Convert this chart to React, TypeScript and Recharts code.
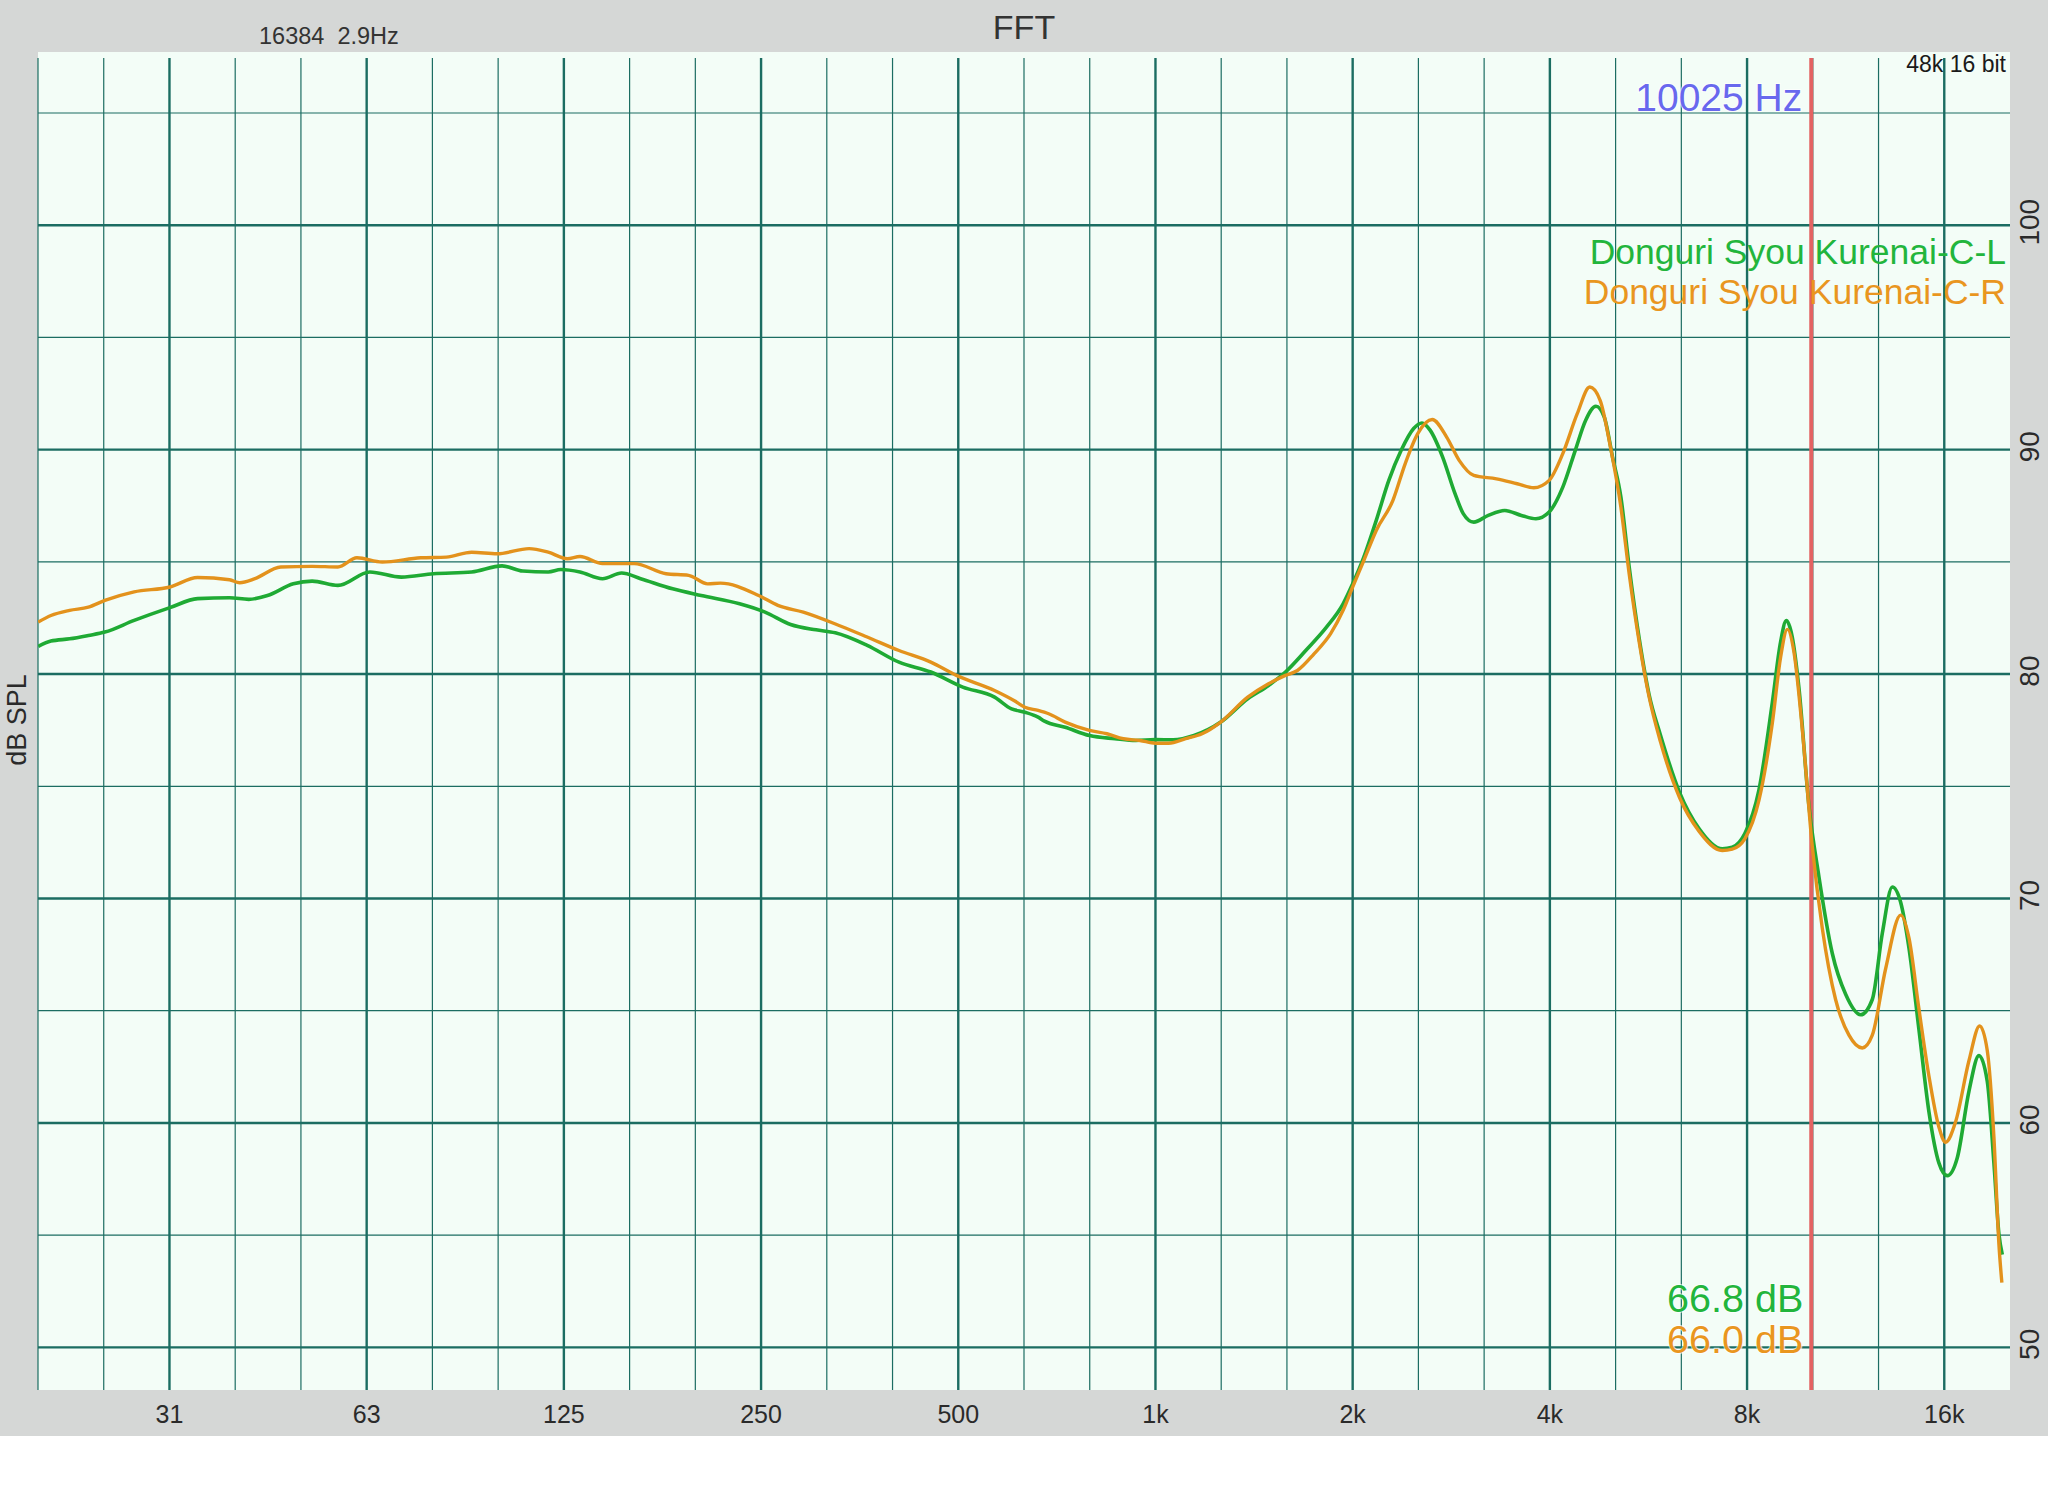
import React from 'react';
import { LineChart, Line, XAxis, YAxis, ReferenceLine } from 'recharts';

// ---- data ----
const freqL = [19.7, 20.6, 22.0, 23.5, 24.9, 27.6, 31.3, 34.5, 38.6, 41.3, 44.1, 48.3, 51.6, 56.5, 63.2, 70.6, 79.0, 90.4, 100.6, 108.2, 118.3, 123.7, 132.3, 143.2, 153.1, 163.7, 183.2, 202.6, 231.8, 253.5, 277.3, 303.3, 324.5, 363, 406, 454, 508, 568, 603, 632, 662, 677, 728, 793, 867, 933, 1000, 1064, 1145, 1258, 1383, 1488, 1579, 1696, 1824, 1934, 2000, 2080, 2173, 2271, 2372, 2478, 2551, 2627, 2744, 2866, 2950, 3061, 3221, 3413, 3619, 3808, 3990, 4186, 4374, 4535, 4704, 4843, 4986, 5134, 5286, 5481, 5668, 5898, 6312, 6756, 7332, 7594, 7941, 8340, 8740, 9000, 9183, 9377, 9600, 9942, 10300, 10795, 11313, 11926, 12424, 12871, 13330, 13726, 14135, 14640, 15160, 15700, 16170, 16750, 17450, 18075, 18610, 19050, 19390, 19620];
const dbL = [81.23, 81.47, 81.57, 81.72, 81.87, 82.39, 82.96, 83.36, 83.4, 83.33, 83.5, 84.02, 84.14, 83.95, 84.55, 84.32, 84.47, 84.55, 84.82, 84.59, 84.55, 84.66, 84.55, 84.25, 84.5, 84.25, 83.8, 83.5, 83.13, 82.76, 82.21, 81.97, 81.84, 81.28, 80.53, 80.09, 79.42, 78.97, 78.45, 78.3, 78.08, 77.9, 77.63, 77.26, 77.12, 77.04, 77.08, 77.07, 77.26, 77.86, 78.9, 79.49, 80.09, 81.05, 82.09, 83.13, 84.02, 85.21, 86.85, 88.63, 89.97, 90.94, 91.19, 90.86, 89.67, 88.04, 87.15, 86.77, 87.07, 87.29, 87.07, 86.92, 87.22, 88.33, 89.97, 91.3, 91.93, 91.45, 89.67, 87.89, 84.77, 81.5, 79.1, 77.3, 74.72, 73.12, 72.21, 72.28, 72.9, 74.83, 78.7, 81.43, 82.38, 81.65, 79.38, 74.15, 70.96, 67.55, 65.73, 64.82, 65.5, 68.46, 70.51, 69.83, 67.78, 64.14, 60.5, 58.22, 57.65, 58.45, 61.41, 63.0, 61.86, 58.22, 55.04, 54.13];

const freqR = [19.7, 20.6, 22.0, 23.5, 24.9, 27.6, 31.3, 34.5, 38.6, 40.0, 42.2, 46.2, 51.6, 56.5, 60.4, 66.0, 75.6, 82.7, 90.4, 98.9, 110.6, 118.3, 126.5, 132.3, 143.2, 160, 179, 193.8, 207.2, 216.7, 247.9, 265.2, 290, 331.8, 363, 406, 454, 496.7, 568, 610, 632, 662, 687, 728, 793, 843, 893, 947, 1000, 1048, 1112, 1178, 1258, 1383, 1488, 1579, 1647, 1746, 1851, 1934, 2000, 2080, 2173, 2304, 2406, 2514, 2645, 2783, 2908, 3061, 3316, 3566, 3780, 3990, 4186, 4404, 4603, 4773, 4949, 5134, 5286, 5481, 5668, 5898, 6312, 6756, 7332, 7594, 7941, 8340, 8740, 9000, 9217, 9434, 9712, 10060, 10420, 10920, 11446, 11994, 12424, 13020, 13726, 14135, 14640, 15160, 15700, 16070, 16650, 17450, 18120, 18610, 19050, 19390, 19590];
const dbR = [82.32, 82.61, 82.84, 82.98, 83.28, 83.66, 83.88, 84.3, 84.2, 84.07, 84.25, 84.77, 84.8, 84.77, 85.18, 84.99, 85.18, 85.21, 85.43, 85.36, 85.59, 85.43, 85.14, 85.24, 84.92, 84.92, 84.47, 84.4, 84.02, 84.05, 83.5, 83.06, 82.76, 82.12, 81.65, 81.05, 80.53, 79.94, 79.27, 78.8, 78.52, 78.38, 78.23, 77.86, 77.49, 77.34, 77.12, 77.04, 76.92, 76.92, 77.12, 77.34, 77.86, 78.97, 79.57, 79.94, 80.16, 80.9, 81.8, 82.84, 83.88, 85.06, 86.4, 87.74, 89.38, 90.71, 91.34, 90.56, 89.52, 88.85, 88.7, 88.48, 88.3, 88.63, 89.82, 91.6, 92.79, 92.2, 90.12, 87.44, 84.47, 81.35, 79.0, 77.0, 74.49, 73.0, 72.14, 72.2, 72.67, 74.37, 77.78, 80.74, 81.99, 80.97, 77.56, 72.33, 68.69, 65.5, 63.91, 63.34, 63.91, 66.87, 69.26, 68.23, 65.06, 62.09, 59.82, 59.14, 60.05, 62.77, 64.32, 63.23, 59.37, 54.58, 52.88];

const xTickFreqs = [31.25, 62.5, 125, 250, 500, 1000, 2000, 4000, 8000, 16000];
const xTickLabels = ['31', '63', '125', '250', '500', '1k', '2k', '4k', '8k', '16k'];
const yTicks = [50, 60, 70, 80, 90, 100];
const yMinorGrid = [55, 65, 75, 85, 95, 105];

const seriesNames = ['Donguri Syou Kurenai-C-L', 'Donguri Syou Kurenai-C-R'];
const cursorFreq = 10025;
const cursorFreqLabel = '10025 Hz';
const cursorReadouts = ['66.8 dB', '66.0 dB'];
const titleText = 'FFT';
const fftInfo = '16384  2.9Hz';
const formatInfo = '48k 16 bit';
const yAxisTitle = 'dB SPL';

// ---- derived ----
const F_MIN = 31.25 / Math.pow(2, 2 / 3);
const F_MAX = 16000 * Math.pow(2, 1 / 3);
const thirdOctaves = Array.from({ length: 30 }, (_, k) => ({ f: F_MIN * Math.pow(2, k / 3), major: k % 3 === 2 }));
const dataL = freqL.map((f, i) => ({ f, db: dbL[i] }));
const dataR = freqR.map((f, i) => ({ f, db: dbR[i] }));

const GREEN = '#1faa34';
const ORANGE = '#e3921c';
const GREEN_TXT = '#22b53c';
const ORANGE_TXT = '#e9961f';
const GRID = '#1b6d62';
const FONT = '"Liberation Sans", Arial, Helvetica, sans-serif';
const TXT = '#2a2a2a';

const XTick = (props: any) => {
  const { x, y, payload } = props;
  const idx = xTickFreqs.findIndex((v) => Math.abs(v - payload.value) < 1e-6 * v + 1e-9);
  return (
    <text x={x} y={y + 25} textAnchor="middle" fontSize={25} fontFamily={FONT} fill={TXT}>
      {idx >= 0 ? xTickLabels[idx] : ''}
    </text>
  );
};

const YTick = (props: any) => {
  const { x, y, payload } = props;
  const bx = x + 21;
  const by = y - 3;
  return (
    <text x={bx} y={by} transform={`rotate(-90, ${bx}, ${by})`} textAnchor="middle" fontSize={28} fontFamily={FONT} fill={TXT}>
      {payload.value}
    </text>
  );
};

const CursorLabel = (props: any) => {
  const vb = props.viewBox || {};
  const x = vb.x;
  const top = vb.y;
  const bottom = vb.y + vb.height;
  const halo = { paintOrder: 'stroke' as const, stroke: '#ffffff', strokeWidth: 2, strokeOpacity: 0.7 };
  return (
    <g>
      <text x={x - 9} y={top + 53} textAnchor="end" fontSize={39} fontFamily={FONT} fill="#6868ee" style={halo}>
        {cursorFreqLabel}
      </text>
      <text x={x - 8} y={bottom - 78} textAnchor="end" fontSize={39.5} fontFamily={FONT} fill={GREEN_TXT} style={halo}>
        {cursorReadouts[0]}
      </text>
      <text x={x - 8} y={bottom - 37} textAnchor="end" fontSize={39.5} fontFamily={FONT} fill={ORANGE_TXT} style={halo}>
        {cursorReadouts[1]}
      </text>
    </g>
  );
};

export default function App() {
  return (
    <div style={{ position: 'absolute', left: 0, top: 0, width: 2048, height: 1496, background: '#ffffff', overflow: 'hidden' }}>
      <div style={{ position: 'absolute', left: 0, top: 0, width: 2048, height: 1436, background: '#d5d7d6' }} />
      <div style={{ position: 'absolute', left: 38, top: 52, width: 1972, height: 1338, background: '#f3fdf7' }} />
      <div style={{ position: 'absolute', left: 0, top: 0 }}>
        <LineChart width={2048} height={1436} margin={{ top: 58, right: 0, bottom: 0, left: 38 }}>
          <XAxis
            type="number"
            dataKey="f"
            scale="log"
            domain={[F_MIN, F_MAX]}
            allowDataOverflow
            ticks={xTickFreqs}
            interval={0}
            tick={XTick}
            tickLine={false}
            axisLine={false}
            height={46}
          />
          <YAxis
            orientation="right"
            type="number"
            domain={[48.1, 107.45]}
            allowDataOverflow
            ticks={yTicks}
            interval={0}
            tick={YTick}
            tickLine={false}
            axisLine={false}
            width={38}
          />
          {thirdOctaves.map((g, i) => (
            <ReferenceLine key={'v' + i} x={g.f} stroke={GRID} strokeWidth={g.major ? 2.4 : 1.2} />
          ))}
          {yMinorGrid.map((v) => (
            <ReferenceLine key={'hm' + v} y={v} stroke={GRID} strokeWidth={1.2} />
          ))}
          {yTicks.map((v) => (
            <ReferenceLine key={'hM' + v} y={v} stroke={GRID} strokeWidth={2.4} />
          ))}
          <ReferenceLine x={cursorFreq} stroke="#e36262" strokeWidth={4} label={CursorLabel} />
          <Line data={dataL} dataKey="db" type="monotone" stroke={GREEN} strokeWidth={3.6} dot={false} isAnimationActive={false} />
          <Line data={dataR} dataKey="db" type="monotone" stroke={ORANGE} strokeWidth={3.4} dot={false} isAnimationActive={false} />
        </LineChart>
      </div>
      <svg width={2048} height={1496} style={{ position: 'absolute', left: 0, top: 0, pointerEvents: 'none' }}>
        <text x={1024} y={39} textAnchor="middle" fontSize={34} fontFamily={FONT} fill="#333333">{titleText}</text>
        <text x={259} y={44} fontSize={23.5} fontFamily={FONT} fill="#333333" style={{ whiteSpace: 'pre' }}>{fftInfo}</text>
        <text x={2006} y={72} textAnchor="end" fontSize={23} fontFamily={FONT} fill="#1a1a1a">{formatInfo}</text>
        <text x={2006} y={264} textAnchor="end" fontSize={35.5} fontFamily={FONT} fill={GREEN_TXT}>{seriesNames[0]}</text>
        <text x={2006} y={304} textAnchor="end" fontSize={35.5} fontFamily={FONT} fill={ORANGE_TXT}>{seriesNames[1]}</text>
        <text x={26} y={720} transform="rotate(-90, 26, 720)" textAnchor="middle" fontSize={27} fontFamily={FONT} fill={TXT}>{yAxisTitle}</text>
      </svg>
    </div>
  );
}
